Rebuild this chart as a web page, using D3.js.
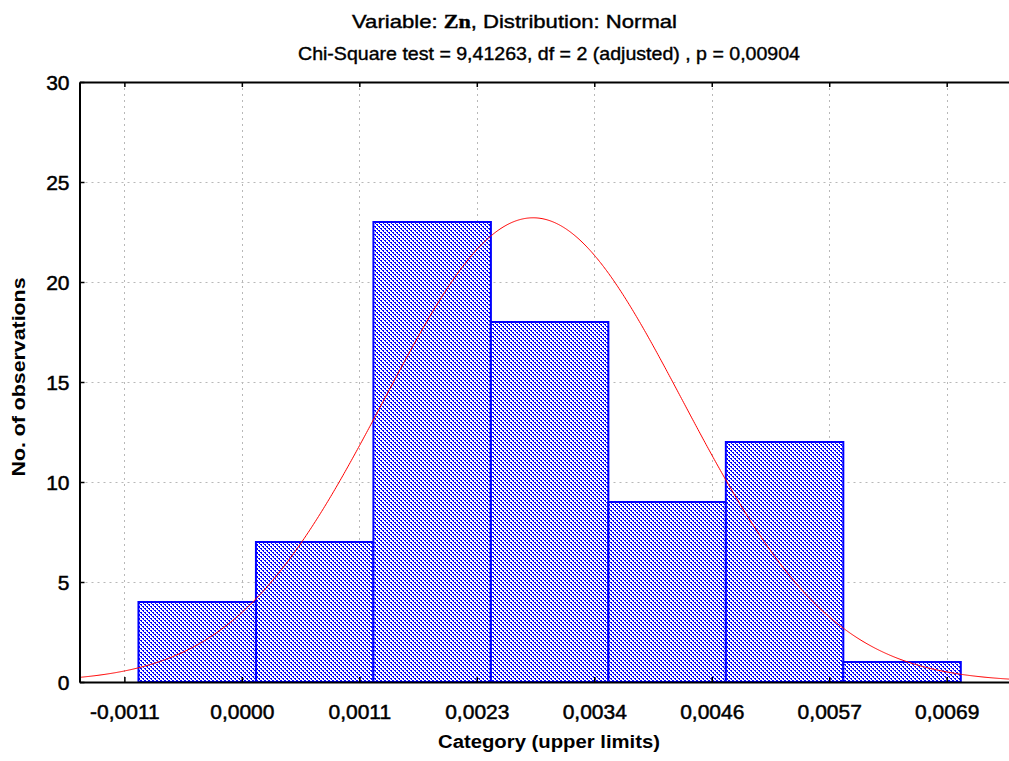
<!DOCTYPE html>
<html><head><meta charset="utf-8">
<script src="https://cdn.jsdelivr.net/npm/d3@7"></script>
<style>body{margin:0;background:#fff}svg{display:block}</style>
</head><body><svg id="c" width="1009" height="761"></svg>
<script>
// ---- data ----
const binLower = [-0.001008, 0.0001375, 0.001283, 0.0024285, 0.003574, 0.0047195, 0.005865];
const binUpper = [0.0001375, 0.001283, 0.0024285, 0.003574, 0.0047195, 0.005865, 0.0070105];
const counts = [4, 7, 23, 18, 9, 12, 1];
const tickValues = [-0.0011455, 0, 0.0011455, 0.002291, 0.0034365, 0.004582, 0.0057275, 0.006873];
const tickLabels = ["-0,0011", "0,0000", "0,0011", "0,0023", "0,0034", "0,0046", "0,0057", "0,0069"];
const yTicks = [0, 5, 10, 15, 20, 25, 30];
// fitted normal distribution parameters
const fitMean = 0.00284, fitSd = 0.001457, fitN = 74, fitBinWidth = 0.0011455;

const svg = d3.select("#c");
const L = 79.5, R = 1011, T = 82, B = 682;
const x = d3.scaleLinear().domain([-0.001583, 0.0075]).range([L, R]);
const y = d3.scaleLinear().domain([0, 30]).range([B, T]);

// pattern: "\" diagonal hatch
const defs = svg.append("defs");
const P = 4;
const pat = defs.append("pattern").attr("id", "hatch").attr("patternUnits", "userSpaceOnUse")
  .attr("width", P).attr("height", P);
pat.append("rect").attr("width", P).attr("height", P).attr("fill", "#fff");
d3.range(P).forEach(r => {
  const cols = r % 2 === 0 ? [r, (r + 1) % P] : [r];
  cols.forEach(cx =>
    pat.append("rect").attr("x", cx).attr("y", r).attr("width", 1).attr("height", 1).attr("fill", "#0000ff"));
});

// grid
const grid = svg.append("g").attr("stroke", "#b8b8b8").attr("stroke-width", 1).attr("stroke-dasharray", "2,4");
grid.selectAll("line.v").data(tickValues).join("line")
  .attr("x1", d => Math.round(x(d)) + 0.5).attr("x2", d => Math.round(x(d)) + 0.5)
  .attr("y1", T).attr("y2", B);
grid.selectAll("line.h").data(yTicks.filter(d => d > 0 && d < 30)).join("line")
  .attr("x1", L).attr("x2", R)
  .attr("y1", d => Math.round(y(d)) + 0.5).attr("y2", d => Math.round(y(d)) + 0.5);

// bars
svg.append("g").selectAll("rect").data(counts).join("rect")
  .attr("x", (d, i) => x(binLower[i]))
  .attr("width", (d, i) => x(binUpper[i]) - x(binLower[i]))
  .attr("y", d => y(d))
  .attr("height", d => B - y(d))
  .attr("fill", "url(#hatch)")
  .attr("stroke", "#0000ff").attr("stroke-width", 2);

// fitted curve
const pts = d3.range(x.domain()[0], x.domain()[1], 0.00001).map(v =>
  [v, fitN * fitBinWidth * Math.exp(-0.5 * ((v - fitMean) / fitSd) ** 2) / (fitSd * Math.sqrt(2 * Math.PI))]);
svg.append("path").datum(pts)
  .attr("d", d3.line().x(d => x(d[0])).y(d => y(d[1])))
  .attr("fill", "none").attr("stroke", "#ff0000").attr("stroke-width", 1);

// axes
const axB = svg.append("g").attr("transform", `translate(0,${B})`)
  .call(d3.axisBottom(x).tickValues(tickValues).tickFormat((d, i) => tickLabels[i]).tickSizeInner(-5).tickSizeOuter(0).tickPadding(22));
const axT = svg.append("g").attr("transform", `translate(0,${T})`)
  .call(d3.axisTop(x).tickValues(tickValues).tickFormat("").tickSizeInner(-5).tickSizeOuter(0));
const axL = svg.append("g").attr("transform", `translate(${L},0)`)
  .call(d3.axisLeft(y).tickValues(yTicks).tickSizeInner(-5).tickSizeOuter(0).tickPadding(10));
[axB, axT, axL].forEach(a => {
  a.select(".domain").attr("stroke", "#000").attr("stroke-width", 2);
  a.selectAll(".tick line").attr("stroke", "#000").attr("stroke-width", 1.5);
  a.selectAll("text").attr("font-family", "Liberation Sans, Arial, sans-serif").attr("font-size", 21)
    .attr("fill", "#000").attr("stroke", "#000").attr("stroke-width", 0.5);
});
axL.selectAll(".tick text").attr("dy", "0.36em");

// titles
const t1 = svg.append("text").attr("x", 352).attr("y", 28)
  .attr("font-family", "Liberation Sans, Arial, sans-serif").attr("font-size", 19)
  .attr("stroke", "#000").attr("stroke-width", 0.4)
  .attr("textLength", 325).attr("lengthAdjust", "spacingAndGlyphs");
t1.append("tspan").text("Variable: ");
t1.append("tspan").attr("font-family", "Liberation Serif, Times New Roman, serif").attr("font-weight", "bold").text("Zn");
t1.append("tspan").text(", Distribution: Normal");
svg.append("text").attr("x", 298).attr("y", 60)
  .attr("font-family", "Liberation Sans, Arial, sans-serif").attr("font-size", 19)
  .attr("stroke", "#000").attr("stroke-width", 0.4)
  .attr("textLength", 502).attr("lengthAdjust", "spacingAndGlyphs")
  .text("Chi-Square test = 9,41263, df = 2 (adjusted) , p = 0,00904");
svg.append("text").attr("x", 549).attr("y", 748).attr("text-anchor", "middle")
  .attr("font-family", "Liberation Sans, Arial, sans-serif").attr("font-size", 18).attr("font-weight", "bold")
  .attr("textLength", 222).attr("lengthAdjust", "spacingAndGlyphs")
  .text("Category (upper limits)");
svg.append("text").attr("transform", "translate(25,377) rotate(-90)").attr("text-anchor", "middle")
  .attr("font-family", "Liberation Sans, Arial, sans-serif").attr("font-size", 18).attr("font-weight", "bold")
  .attr("textLength", 199).attr("lengthAdjust", "spacingAndGlyphs")
  .text("No. of observations");
</script></body></html>
